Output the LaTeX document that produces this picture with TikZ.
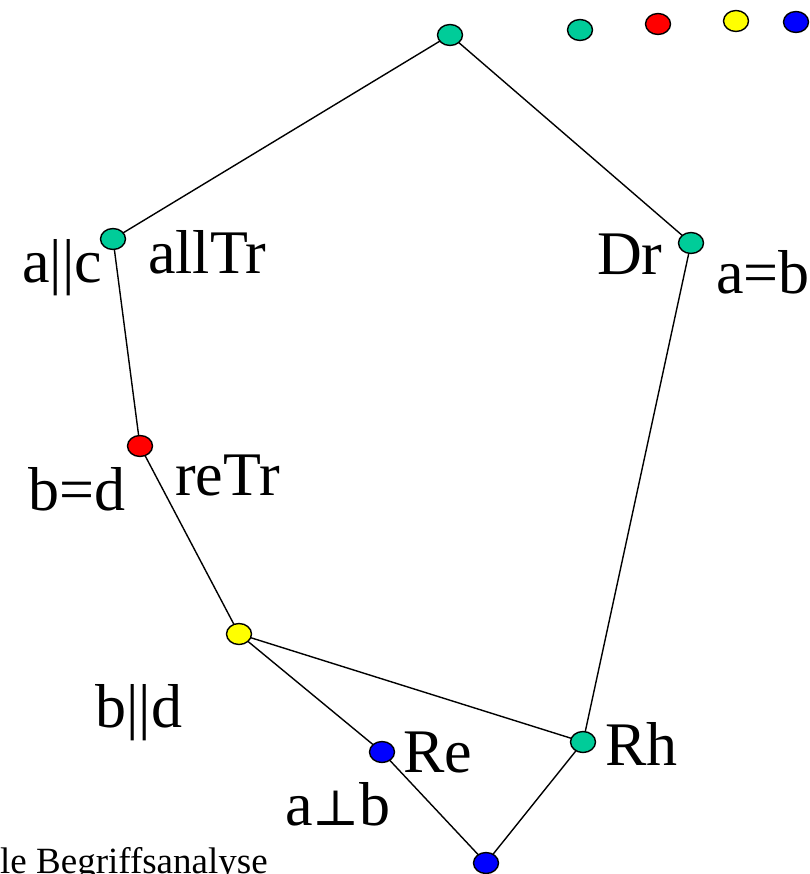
\documentclass[tikz,border=0pt]{standalone}
\usepackage{fontspec}
\setmainfont{Liberation Serif}
\newfontfamily\symfont{DejaVu Serif}
\usetikzlibrary{shapes.geometric}
\pgfdeclarelayer{bg}
\pgfsetlayers{bg,main}
\definecolor{cgreen}{RGB}{0,204,153}
\definecolor{cred}{RGB}{255,0,0}
\definecolor{cyellow}{RGB}{255,255,0}
\definecolor{cblue}{RGB}{0,0,255}
\tikzset{
  dot/.style={ellipse, draw=black, line width=1.4pt, minimum width=25pt, minimum height=21pt, inner sep=0pt},
  lbl/.style={anchor=base west, inner sep=0pt, font=\fontsize{62}{70}\selectfont},
  edge/.style={draw=black, line width=1.4pt}
}
\begin{document}
\begin{tikzpicture}[x=1pt,y=-1pt]
\useasboundingbox (0,0) rectangle (809,874);
% legend
\node[dot, fill=cgreen] (lg) at (580,30) {};
\node[dot, fill=cred] (lr) at (658,24) {};
\node[dot, fill=cyellow] (ly) at (736,21) {};
\node[dot, fill=cblue] (lb) at (796,22) {};
% lattice nodes
\node[dot, fill=cgreen] (top) at (450,35) {};
\node[dot, fill=cgreen] (allTr) at (113,239) {};
\node[dot, fill=cgreen] (Dr) at (691,243) {};
\node[dot, fill=cred] (reTr) at (140,446) {};
\node[dot, fill=cyellow] (par) at (239,634) {};
\node[dot, fill=cblue] (Re) at (382,752) {};
\node[dot, fill=cgreen] (Rh) at (583,742) {};
\node[dot, fill=cblue] (bot) at (486,863) {};
\begin{pgfonlayer}{bg}
\draw[edge] (top.center) -- (allTr.center);
\draw[edge] (top.center) -- (Dr.center);
\draw[edge] (allTr.center) -- (reTr.center);
\draw[edge] (reTr.center) -- (par.center);
\draw[edge] (par.center) -- (Re.center);
\draw[edge] (par.center) -- (Rh.center);
\draw[edge] (Dr.center) -- (Rh.center);
\draw[edge] (Re.center) -- (bot.center);
\draw[edge] (Rh.center) -- (bot.center);
\end{pgfonlayer}
% labels
\node[lbl] (l1) at (22,283) {a||c};
\node[lbl] (l2) at (148,273) {allTr};
\node[lbl] (l3) at (597,275) {Dr};
\node[lbl] (l4) at (716,293) {a=b};
\node[lbl] (l5) at (28,510) {b=d};
\node[lbl] (l6) at (175,495) {reTr};
\node[lbl] (l7) at (95,727) {b||d};
\node[lbl] (l8) at (403,772) {Re};
\node[lbl] (l9) at (605,765) {Rh};
\node[lbl] (l10) at (285,825) {a{\symfont\fontsize{50}{60}\selectfont ⊥}b};
\node[anchor=base west, inner sep=0pt, font=\fontsize{37}{40}\selectfont] (ft) at (0,873) {le Begriffsanalyse};
\end{tikzpicture}
\end{document}
